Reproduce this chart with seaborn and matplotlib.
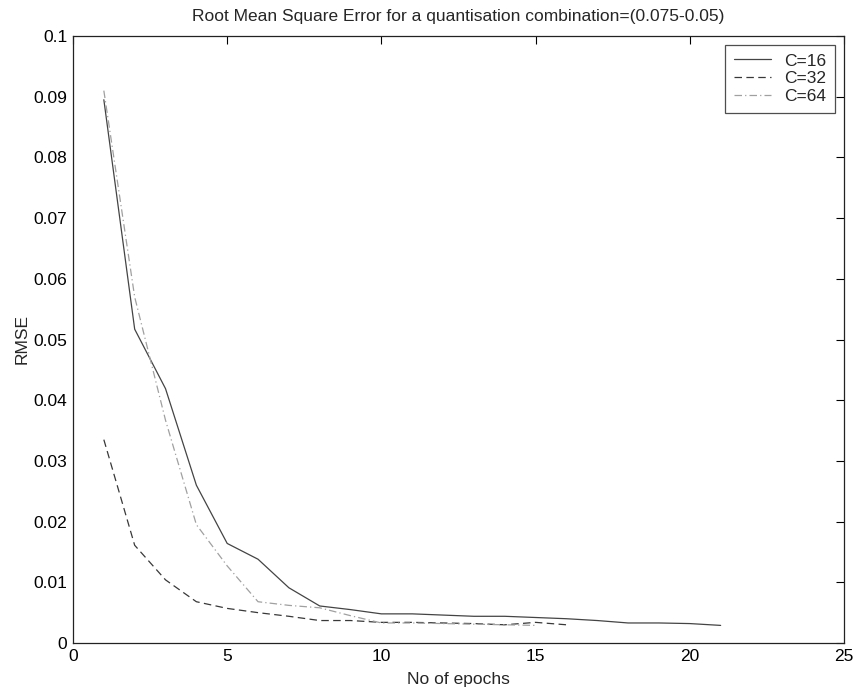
import numpy as np
import pandas as pd
import matplotlib
matplotlib.use("Agg")
import matplotlib.pyplot as plt
import seaborn as sns

# Data
epochs_c16 = list(range(1, 22))
rmse_c16 = [0.0895, 0.0517, 0.0419, 0.0260, 0.0164, 0.0138, 0.0091, 0.0061, 0.0055, 0.0048,
            0.0048, 0.0046, 0.0044, 0.0044, 0.0042, 0.0040, 0.0037, 0.0033, 0.0033, 0.0032, 0.0029]

epochs_c32 = list(range(1, 17))
rmse_c32 = [0.0335, 0.0161, 0.0104, 0.0068, 0.0057, 0.0050, 0.0044, 0.0037, 0.0037, 0.0034,
            0.0034, 0.0033, 0.0032, 0.0030, 0.0034, 0.0030]

epochs_c64 = list(range(1, 16))
rmse_c64 = [0.0910, 0.0570, 0.0367, 0.0195, 0.0127, 0.0068, 0.0062, 0.0058, 0.0045, 0.0033,
            0.0033, 0.0032, 0.0031, 0.0030, 0.0029]

labels = ["C=16", "C=32", "C=64"]
colors = ["#444444", "#383838", "#a0a0a0"]

df = pd.concat([
    pd.DataFrame({"epoch": epochs_c16, "rmse": rmse_c16, "C": labels[0]}),
    pd.DataFrame({"epoch": epochs_c32, "rmse": rmse_c32, "C": labels[1]}),
    pd.DataFrame({"epoch": epochs_c64, "rmse": rmse_c64, "C": labels[2]}),
])

sns.set_style("white")
plt.rcParams["font.family"] = ["Liberation Sans", "DejaVu Sans"]

W, H = 856, 692
fig = plt.figure(figsize=(W / 100, H / 100), dpi=100)
ax = fig.add_axes([73 / W, (H - 643) / H, (844 - 73) / W, (643 - 36) / H])

sns.lineplot(data=df, x="epoch", y="rmse", hue="C", style="C",
             palette=dict(zip(labels, colors)),
             dashes={labels[0]: "", labels[1]: (6, 3.5), labels[2]: (6, 2.5, 1, 2.5)},
             linewidth=0.9, ax=ax, legend=True)

fs = 12.5
ax.set_xlim(0, 25)
ax.set_ylim(0, 0.1)
ax.set_xticks([0, 5, 10, 15, 20, 25])
ax.set_yticks(np.arange(0, 0.1001, 0.01))
ax.set_yticklabels(["0", "0.01", "0.02", "0.03", "0.04", "0.05", "0.06", "0.07", "0.08", "0.09", "0.1"])
ax.tick_params(direction="in", length=6, width=0.8, top=True, right=True,
               labelsize=fs, colors="black", pad=4)
for s in ax.spines.values():
    s.set_visible(True)
    s.set_color("#222222")
    s.set_linewidth(0.9)

ax.set_xlabel("No of epochs", fontsize=fs, labelpad=6)
ax.set_ylabel("RMSE", fontsize=fs, labelpad=3)
ax.set_title("Root Mean Square Error for a quantisation combination=(0.075-0.05)",
             fontsize=fs, pad=11)

leg = ax.legend(loc="upper right", fontsize=fs, frameon=True, fancybox=False,
                edgecolor="#222222", handlelength=2.1, borderaxespad=0.5,
                handletextpad=0.8, labelspacing=0.15, borderpad=0.5)
leg.get_frame().set_linewidth(0.9)

fig.savefig("out.png", dpi=100)
